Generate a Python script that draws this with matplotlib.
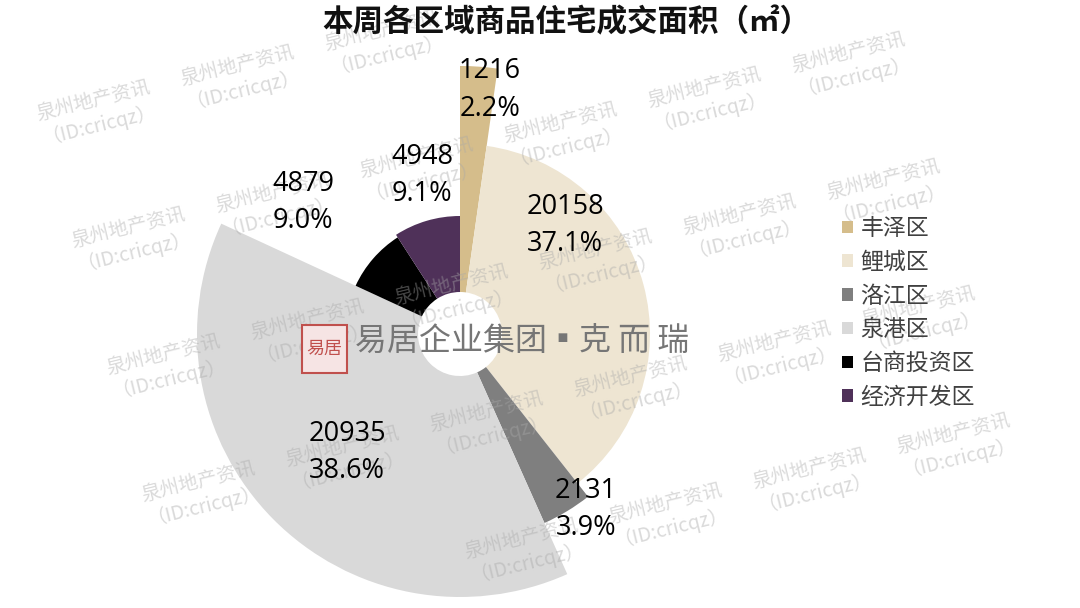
import numpy as np
import matplotlib
matplotlib.use('Agg')
import matplotlib.pyplot as plt
from matplotlib.patches import Rectangle, Patch
from matplotlib.font_manager import FontProperties

# ---------------- data ----------------
districts = ['丰泽区', '鲤城区', '洛江区', '泉港区', '台商投资区', '经济开发区']
areas = [1216, 20158, 2131, 20935, 4879, 4948]
title = '本周各区域商品住宅成交面积（㎡）'
logo_text = '易居企业集团▪克 而 瑞'
watermark_text = '泉州地产资讯\n（ID:cricqz）'

# ---------------- style ----------------
colors = ['#D5BD8B', '#EEE5D2', '#7F7F7F', '#D9D9D9', '#000000', '#4F3159']
outer_r = [268, 190, 207, 263, 115, 118]      # petal radii (px)
hole_r = 42
label_xy = [(490, 90), (565, 225), (586, 509.5), (347, 452.5), (303, 202.5), (422, 175.5)]

CJK = ['Noto Sans CJK SC', 'DejaVu Sans']
W, H = 1080, 608
fig = plt.figure(figsize=(W / 100, H / 100), dpi=100)
fig.patch.set_facecolor('white')

cx, cy, R = 460, 334, 300
ax = fig.add_axes([(cx - R) / W, (H - cy - R) / H, 2 * R / W, 2 * R / H], projection='polar')
ax.set_theta_zero_location('N')
ax.set_theta_direction(-1)
ax.set_ylim(0, R)
ax.axis('off')

vals = np.array(areas, dtype=float)
frac = vals / vals.sum()
widths = frac * 2 * np.pi
starts = np.concatenate([[0.0], np.cumsum(widths)[:-1]])
ax.bar(starts, np.array(outer_r) - hole_r, width=widths, bottom=hole_r,
       align='edge', color=colors, edgecolor='none', linewidth=0)


def fx(x):
    return x / W


def fy(y):
    return 1 - y / H


# watermark tiles (only the ones fully inside the picture)
a = np.array([144.0, -35.0])
b = np.array([35.0, 127.0])
origin = np.array([96.5, 111.5])
for i in range(-6, 12):
    for j in range(-4, 8):
        p = origin + i * a + j * b
        if 72 < p[0] < W - 72 and 40 < p[1] < H - 40:
            fig.text(fx(p[0]), fy(p[1]), watermark_text, ha='center', va='center',
                     multialignment='center', rotation=13.7, rotation_mode='anchor',
                     fontsize=14, family=CJK, color='#a8a8a8', alpha=0.42,
                     linespacing=1.05, zorder=2)

# centre logo
seal = Rectangle((fx(302), fy(373)), fx(45), 48 / H, transform=fig.transFigure,
                 facecolor='#f6e4e4', edgecolor='#c0504d', linewidth=1.5, zorder=2.6)
fig.add_artist(seal)
fig.text(fx(324.5), fy(349), '易居', ha='center', va='center', fontsize=13,
         family=CJK, color='#c0504d', zorder=2.7)
fig.text(fx(355), fy(341), logo_text, ha='left', va='center', fontsize=23,
         family=CJK, color='#767676', zorder=2.7)

# data labels
for v, p, (x, y) in zip(areas, frac, label_xy):
    fig.text(fx(x), fy(y - 18.5), f'{v}', ha='center', va='center',
             fontsize=19.5, family='Open Sans', color='#000000', zorder=3)
    fig.text(fx(x), fy(y + 18.5), f'{p * 100:.1f}%', ha='center', va='center',
             fontsize=19.5, family='Open Sans', color='#000000', zorder=3)

# title
fig.text(fx(566), fy(22), title, ha='center', va='center', fontsize=22,
         fontweight='bold', family=CJK, color='#111111', zorder=3)

# legend
handles = [Patch(facecolor=c, edgecolor='none') for c in colors]
fig.legend(handles, districts, loc='upper left', bbox_to_anchor=(fx(842), fy(217)),
           frameon=False, prop=FontProperties(family='Noto Sans CJK SC', size=16.5),
           labelcolor='#404040', handlelength=0.47, handleheight=0.47,
           handletextpad=0.33, labelspacing=0.47, borderpad=0, borderaxespad=0)

fig.savefig('out.png', dpi=100, facecolor='white')
